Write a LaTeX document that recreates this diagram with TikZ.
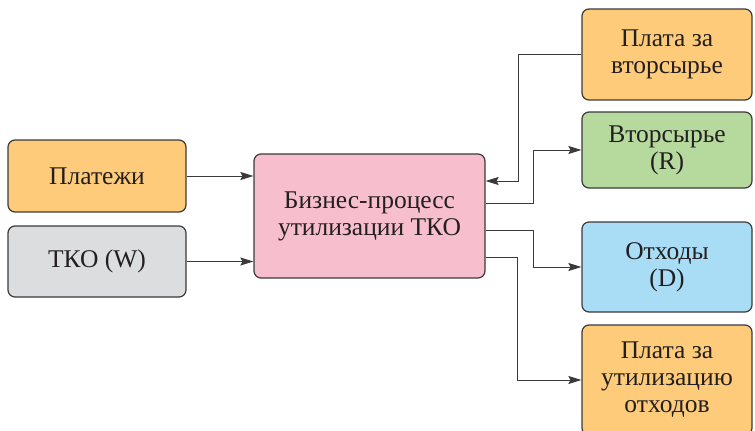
\documentclass[tikz,border=0pt]{standalone}
\usepackage{fontspec}
\setmainfont{Liberation Serif}
\usepackage{xcolor}
\usetikzlibrary{calc}
\usetikzlibrary{positioning}
\usetikzlibrary{arrows.meta}

\definecolor{payorange}{HTML}{FDCB7A}
\definecolor{recgreen}{HTML}{B6D99D}
\definecolor{wasteblue}{HTML}{A9DDF6}
\definecolor{procpink}{HTML}{F7BFCE}
\definecolor{tkogray}{HTML}{DCDDDE}
\definecolor{edgegray}{HTML}{3A3A3A}
\definecolor{txt}{HTML}{231F20}

\begin{document}
\begin{tikzpicture}[x=1pt, y=-1pt, >={Stealth[length=13pt,width=8pt,inset=2pt]}, font=\fontsize{25.5}{27}\selectfont, text=txt]
		\tikzstyle{block}=[draw=edgegray, line width=1.2pt, rounded corners=7pt, rectangle, inner sep=0pt, align=center]
		\tikzstyle{flow}=[->, draw=edgegray, line width=1pt]
		\useasboundingbox (0,0) rectangle (755,431);
		
		\node[block, fill=payorange, minimum width=178pt, minimum height=72pt] (pay) at (97,176) {Платежи};
		\node[block, fill=tkogray, minimum width=178pt, minimum height=71pt] (tko) at (97,261.5) {ТКО (W)};
		\node[block, fill=procpink, minimum width=231pt, minimum height=124pt] (proc) at (369.5,216) {Бизнес-процесс\\утилизации ТКО};
		
		\node[block, fill=payorange, minimum width=170pt, minimum height=91pt] (payR) at (667,54.5) {Плата за\\вторсырье};
		\node[block, fill=recgreen, minimum width=170pt, minimum height=76pt] (recyc) at (667,150) {Вторсырье\\(R)};
		\node[block, fill=wasteblue, minimum width=170pt, minimum height=90pt] (waste) at (667,267) {Отходы\\(D)};
		\node[block, fill=payorange, minimum width=170pt, minimum height=110pt] (payD) at (667,380) {Плата за\\утилизацию\\отходов};
		
		\draw[flow] (pay.east) -- (pay.east -| proc.west);
		\draw[flow] (tko.east) -- (tko.east -| proc.west);
		
		\draw[flow] (payR.west) -| ($(proc.east)+(33,-35)$) -- ($(proc.east)+(0,-35)$);
		\draw[flow] ($(proc.east)+(0,-13)$) -- ++(48,0) |- (recyc.west);
		\draw[flow] ($(proc.east)+(0,14)$) -- ++(48,0) |- (waste.west);
		\draw[flow] ($(proc.east)+(0,41)$) -- ++(32,0) |- (payD.west);
		\end{tikzpicture}
\end{document}
